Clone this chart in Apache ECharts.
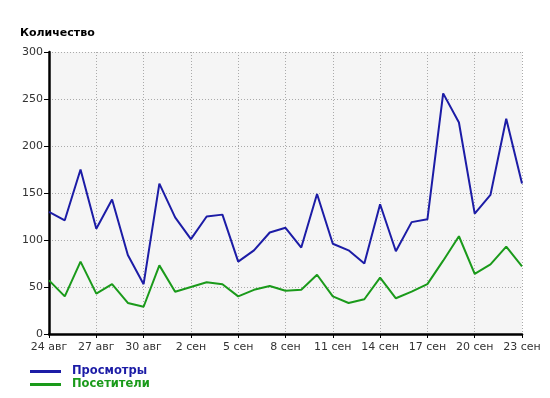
<!DOCTYPE html>
<html>
<head>
<meta charset="utf-8">
<script src="https://cdn.jsdelivr.net/npm/echarts@6/dist/echarts.min.js"></script>
<style>html,body{margin:0;padding:0;background:#fff}#c{width:550px;height:398px}</style>
</head>
<body>
<div id="c"></div>
<script>
const categories = ["24 авг","25 авг","26 авг","27 авг","28 авг","29 авг","30 авг","31 авг",
  "1 сен","2 сен","3 сен","4 сен","5 сен","6 сен","7 сен","8 сен","9 сен","10 сен","11 сен",
  "12 сен","13 сен","14 сен","15 сен","16 сен","17 сен","18 сен","19 сен","20 сен","21 сен","22 сен","23 сен"];
const views = [130,121,175,112,143,84,53,160,124,101,125,127,77,89,108,113,92,149,96,89,75,138,88,119,122,256,225,128,148,229,160];
const visitors = [57,40,77,43,53,33,29,73,45,50,55,53,40,47,51,46,47,63,40,33,37,60,38,45,53,78,104,64,74,93,72];
const yTicks = {min:0, max:300, interval:50};
const seriesNames = ["Просмотры","Посетители"];
const colors = ["#1c1ca6","#1a9a1a"];
const font = "DejaVu Sans";

const chart = echarts.init(document.getElementById('c'), null, {renderer:'canvas'});
chart.setOption({
  animation:false,
  backgroundColor:'#fff',
  title:{text:'Количество', left:20, top:28, padding:0, textStyle:{fontFamily:font, fontSize:11, fontWeight:'bold', color:'#000'}},
  grid:{left:49, right:28, top:52, bottom:64, show:true, backgroundColor:'#f5f5f5', borderWidth:0},
  legend:{orient:'vertical', left:30, top:365, padding:0, itemWidth:31, itemHeight:3, itemGap:0, icon:'rect',
    data:seriesNames.map((n,i)=>({name:n, textStyle:{color:colors[i]}})),
    textStyle:{fontFamily:font, fontSize:11.5, fontWeight:'bold', lineHeight:13, padding:[0,0,0,6]}},
  xAxis:{type:'category', data:categories, boundaryGap:false,
    axisLine:{lineStyle:{color:'#000', width:2.5}},
    axisTick:{interval:2, length:4, lineStyle:{color:'#000', width:1}},
    axisLabel:{interval:2, margin:8, fontFamily:font, fontSize:11, color:'#333'},
    splitLine:{show:true, interval:2, lineStyle:{type:[1,2], color:'#aaa', width:1}}},
  yAxis:{type:'value', min:yTicks.min, max:yTicks.max, interval:yTicks.interval,
    axisLine:{show:true, lineStyle:{color:'#000', width:2.5}},
    axisTick:{show:true, length:5, lineStyle:{color:'#000', width:1}},
    axisLabel:{margin:6, fontFamily:font, fontSize:11, color:'#333'},
    splitLine:{show:true, lineStyle:{type:[1,2], color:'#aaa', width:1}}},
  series:[
    {name:seriesNames[0], type:'line', data:views, showSymbol:false, symbol:'none', color:colors[0], lineStyle:{width:2, color:colors[0]}},
    {name:seriesNames[1], type:'line', data:visitors, showSymbol:false, symbol:'none', color:colors[1], lineStyle:{width:2, color:colors[1]}}
  ]
});
</script>
</body>
</html>
